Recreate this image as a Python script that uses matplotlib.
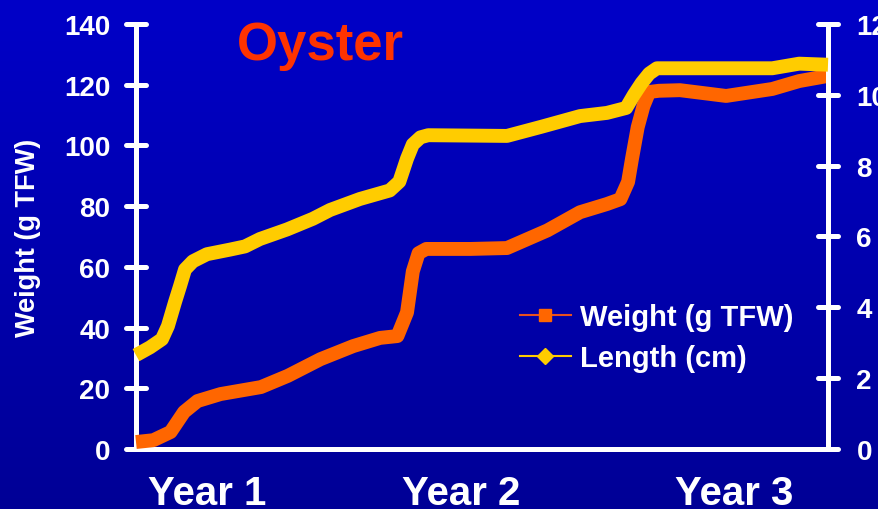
import numpy as np
import matplotlib
matplotlib.use("Agg")
import matplotlib.pyplot as plt
from matplotlib.markers import MarkerStyle
from matplotlib.lines import Line2D

plt.rcParams["font.family"] = ["Liberation Sans", "DejaVu Sans"]
plt.rcParams["font.weight"] = "bold"

# Time axis in months since the oysters were set out
weight_months = [0.0, 0.9, 1.8, 2.5, 3.2, 4.4, 6.5, 7.9, 9.6, 11.3, 12.7, 13.6,
                 14.1, 14.4, 14.7, 15.1, 17.4, 19.3, 21.4, 23.1, 24.5, 25.2,
                 25.6, 25.8, 26.1, 26.4, 26.7, 27.2, 28.3, 30.7, 33.1, 34.5, 36.0]
weight_g = [2.3, 2.9, 5.6, 12.2, 15.8, 18.1, 20.4, 24.1, 29.6, 33.9, 36.6, 37.2,
            45.0, 58.5, 64.5, 65.9, 65.9, 66.2, 72.0, 78.0, 80.7, 82.3,
            88.0, 95.5, 106.0, 113.0, 117.6, 118.0, 118.2, 116.3, 118.6, 121.2, 122.9]

length_months = [0.0, 0.73, 1.35, 1.66, 2.03, 2.29, 2.55, 2.96, 3.69, 4.89, 5.67,
                 6.45, 7.86, 9.2, 10.1, 11.65, 13.2, 13.7, 14.1, 14.4, 14.8, 15.2,
                 19.3, 21.1, 23.1, 24.5, 25.5, 25.9, 26.3, 26.7, 27.1, 33.1, 34.5, 36.0]
length_cm = [2.65, 2.87, 3.1, 3.47, 4.15, 4.6, 5.07, 5.3, 5.5, 5.63, 5.72,
             5.93, 6.2, 6.5, 6.75, 7.06, 7.3, 7.55, 8.2, 8.6, 8.8, 8.86,
             8.84, 9.1, 9.4, 9.49, 9.63, 10.0, 10.33, 10.6, 10.75, 10.75, 10.88, 10.85]

year_ticks = [3.7, 16.9, 31.1]
year_labels = ["Year 1", "Year 2", "Year 3"]
weight_ticks = list(range(0, 141, 20))
length_ticks = list(range(0, 13, 2))

ORANGE = "#FF6600"
YELLOW = "#FFCC00"
WHITE = "white"

fig = plt.figure(figsize=(8.79, 5.10), dpi=100)

# Vertical blue gradient behind everything
bg = fig.add_axes([0, 0, 1, 1], zorder=-10)
grad = np.linspace(0, 1, 256).reshape(-1, 1)
top = np.array([0, 0, 200]) / 255
bottom = np.array([0, 0, 150]) / 255
img = top + (bottom - top) * grad[..., None]
bg.imshow(img.reshape(256, 1, 3), aspect="auto", extent=[0, 1, 0, 1])
bg.set_axis_off()

ax = fig.add_axes([136 / 879, 60 / 510, 692 / 879, 425 / 510])
ax.patch.set_visible(False)
ax2 = ax.twinx()
ax2.patch.set_visible(False)

ax.plot(weight_months, weight_g, color=ORANGE, lw=10, solid_capstyle="butt",
        solid_joinstyle="round", clip_on=False, zorder=3)
ax2.plot(length_months, length_cm, color=YELLOW, lw=10, solid_capstyle="butt",
         solid_joinstyle="round", clip_on=False, zorder=3)

ax.set_xlim(0, 36)
ax.set_ylim(0, 140)
ax2.set_ylim(0, 12)

ax.set_yticks(weight_ticks)
ax2.set_yticks(length_ticks)
ax.set_xticks(year_ticks)
ax.set_xticklabels(year_labels)

for s in ["top", "right"]:
    ax.spines[s].set_visible(False)
for s in ["top", "left", "bottom"]:
    ax2.spines[s].set_visible(False)

for sp in [ax.spines["left"], ax.spines["bottom"], ax2.spines["right"]]:
    sp.set_color(WHITE)
    sp.set_linewidth(3.6)
    sp.set_capstyle("round")
ax.spines["bottom"].set_bounds(-0.35, 36.3)

ax.tick_params(axis="y", direction="inout", length=15, width=3.6, colors=WHITE,
               labelsize=20, pad=11)
ax2.tick_params(axis="y", direction="inout", length=15, width=3.6, colors=WHITE,
                labelsize=20, pad=13)
ax.tick_params(axis="x", length=0, colors=WHITE, labelsize=29, pad=18)

for lab in ax.get_xticklabels() + ax.get_yticklabels() + ax2.get_yticklabels():
    lab.set_fontweight("bold")
    lab.set_color(WHITE)

# Rounded tick ends
for t in ax.yaxis.get_major_ticks():
    t.tick1line.set_marker(MarkerStyle("_", capstyle="round"))
for t in ax2.yaxis.get_major_ticks():
    t.tick2line.set_marker(MarkerStyle("_", capstyle="round"))

fig.text(28 / 879, 1 - 238 / 510, "Weight (g TFW)", rotation=90, color=WHITE,
         fontsize=19.5, fontweight="bold", ha="center", va="center")
fig.text(320 / 879, 1 - 46 / 510, "Oyster", color="#FF3300", fontsize=38,
         fontweight="bold", ha="center", va="center")

handles = [
    Line2D([], [], color="#E8501E", lw=1.5, marker="s", markersize=9,
           markerfacecolor=ORANGE, markeredgecolor=ORANGE),
    Line2D([], [], color=YELLOW, lw=1.5, marker="D", markersize=8,
           markerfacecolor=YELLOW, markeredgecolor=YELLOW),
]
leg = ax2.legend(handles, ["Weight (g TFW)", "Length (cm)"], frameon=False,
                 loc="upper left", bbox_to_anchor=(514 / 879, 1 - 298 / 510),
                 bbox_transform=fig.transFigure, prop={"size": 21, "weight": "bold"},
                 handlelength=1.75, handletextpad=0.3, labelspacing=0.45,
                 borderaxespad=0, borderpad=0.2)
for txt in leg.get_texts():
    txt.set_color(WHITE)

fig.savefig("out.png", dpi=100)
